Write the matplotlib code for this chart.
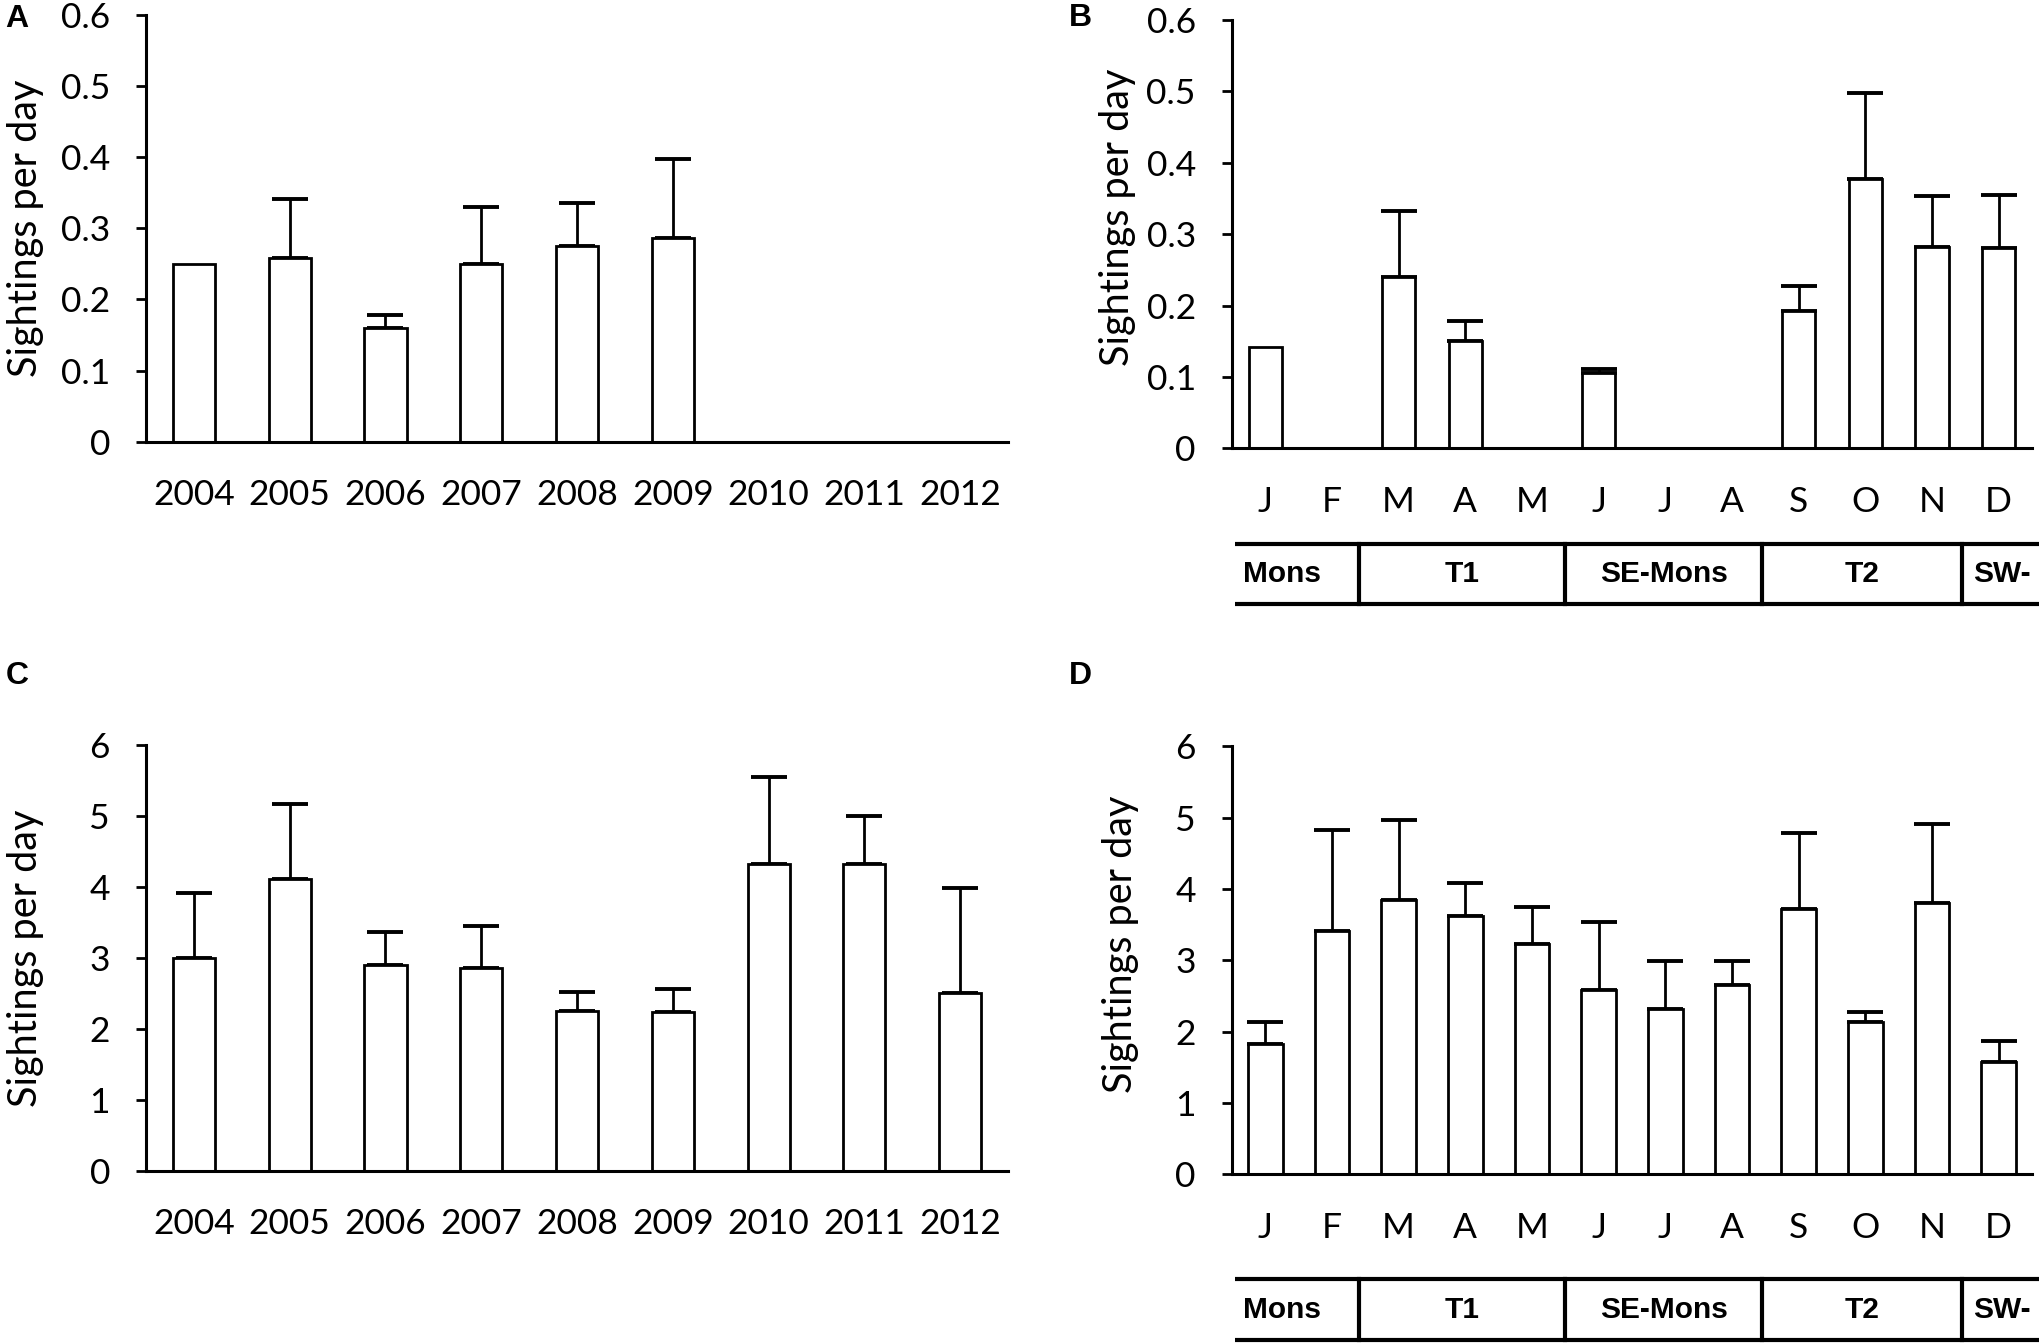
import matplotlib
matplotlib.use("Agg")
import matplotlib.pyplot as plt
import numpy as np
from matplotlib.ticker import FormatStrFormatter

plt.rcParams['font.family'] = ['Lato', 'DejaVu Sans']

years = ['2004', '2005', '2006', '2007', '2008', '2009', '2010', '2011', '2012']
months = ['J', 'F', 'M', 'A', 'M', 'J', 'J', 'A', 'S', 'O', 'N', 'D']

# panel A: sightings per day by year (small)
a_mean = [0.25, 0.258, 0.16, 0.25, 0.275, 0.287, 0, 0, 0]
a_err = [0, 0.083, 0.018, 0.08, 0.061, 0.11, 0, 0, 0]

# panel B: by month (small)
b_mean = [0.142, 0, 0.24, 0.151, 0, 0.106, 0, 0, 0.192, 0.377, 0.282, 0.28]
b_err = [0, 0, 0.092, 0.027, 0, 0.005, 0, 0, 0.036, 0.121, 0.071, 0.075]

# panel C: by year (large)
c_mean = [3.0, 4.11, 2.9, 2.86, 2.26, 2.24, 4.33, 4.33, 2.5]
c_err = [0.91, 1.06, 0.46, 0.59, 0.26, 0.32, 1.22, 0.67, 1.49]

# panel D: by month (large)
d_mean = [1.83, 3.41, 3.85, 3.62, 3.23, 2.59, 2.32, 2.66, 3.72, 2.14, 3.80, 1.57]
d_err = [0.31, 1.41, 1.11, 0.47, 0.51, 0.94, 0.67, 0.33, 1.06, 0.14, 1.11, 0.30]

# seasons under the month panels
season_names = ['Mons', 'T1', 'SE-Mons', 'T2', 'SW-']
season_edges = [-0.45, 1.4, 4.5, 7.45, 10.45, 11.8]

fig = plt.figure(figsize=(20.39, 13.43), dpi=100)


def bar_panel(rect, labels, mean, err, ymax, step, fmt, width):
    ax = fig.add_axes(rect)
    x = np.arange(len(labels))
    ax.bar(x, mean, width=width, color='white', edgecolor='black', linewidth=2, zorder=2)
    mean = np.array(mean)
    err = np.array(err)
    has = err > 0
    ax.errorbar(x[has], mean[has], yerr=[np.zeros(has.sum()), err[has]], fmt='none',
                ecolor='black', elinewidth=2, capsize=13, capthick=2.8, zorder=1)
    ax.set_xlim(-0.5, len(labels) - 0.5)
    ax.set_ylim(0, ymax)
    ax.set_yticks(np.arange(0, ymax + step / 2, step))
    ax.yaxis.set_major_formatter(FormatStrFormatter(fmt))
    ax.set_xticks(x)
    ax.set_xticklabels(labels)
    for s in ['top', 'right']:
        ax.spines[s].set_visible(False)
    for s in ['left', 'bottom']:
        ax.spines[s].set_linewidth(2.2)
    ax.tick_params(axis='x', length=0, pad=27, labelsize=25.5)
    ax.tick_params(axis='y', length=7, width=2, pad=19, labelsize=25.5, direction='out')
    ax.set_ylabel('Sightings per day', fontsize=28.5)
    return ax


def season_table(ax, top, bottom, mid):
    tr = ax.get_xaxis_transform()
    ax.plot([season_edges[0], season_edges[-1]], [top, top], color='black', lw=3,
            transform=tr, clip_on=False, solid_capstyle='butt')
    ax.plot([season_edges[0], season_edges[-1]], [bottom, bottom], color='black', lw=3,
            transform=tr, clip_on=False, solid_capstyle='butt')
    for e in season_edges[1:-1]:
        ax.plot([e, e], [top, bottom], color='black', lw=3, transform=tr, clip_on=False)
    for i, name in enumerate(season_names):
        if i == 0:
            ax.text(season_edges[0] + 0.12, mid, name, transform=tr, ha='left', va='center',
                    fontsize=21.5, fontweight='bold', family='Liberation Sans')
        elif i == len(season_names) - 1:
            ax.text(season_edges[i] + 0.17, mid, name, transform=tr, ha='left', va='center',
                    fontsize=21.5, fontweight='bold', family='Liberation Sans')
        else:
            ax.text((season_edges[i] + season_edges[i + 1]) / 2, mid, name, transform=tr,
                    ha='center', va='center', fontsize=21.5, fontweight='bold',
                    family='Liberation Sans')


axA = bar_panel([0.0716, 0.6711, 0.4228, 0.3177], years, a_mean, a_err, 0.6, 0.1, '%g', 0.44)
axA.yaxis.set_label_coords(-0.118, 0.5)

axB = bar_panel([0.6042, 0.6662, 0.3924, 0.3189], months, b_mean, b_err, 0.6, 0.1, '%g', 0.5)
axB.yaxis.set_label_coords(-0.12, 0.54)
season_table(axB, -0.2245, -0.3646, -0.2935)

axC = bar_panel([0.0716, 0.1281, 0.4228, 0.3172], years, c_mean, c_err, 6, 1, '%g', 0.44)
axC.yaxis.set_label_coords(-0.118, 0.5)

axD = bar_panel([0.6042, 0.1255, 0.3924, 0.3189], months, d_mean, d_err, 6, 1, '%g', 0.52)
axD.yaxis.set_label_coords(-0.116, 0.537)
season_table(axD, -0.245, -0.3866, -0.3166)

for lab, x, y in [('A', 5, 27), ('B', 1069, 26), ('C', 6, 684), ('D', 1069, 684)]:
    fig.text(x / 2039, 1 - y / 1343, lab, fontsize=23, fontweight='bold',
             family='Liberation Sans', ha='left', va='baseline')

fig.savefig('out.png', dpi=100)
